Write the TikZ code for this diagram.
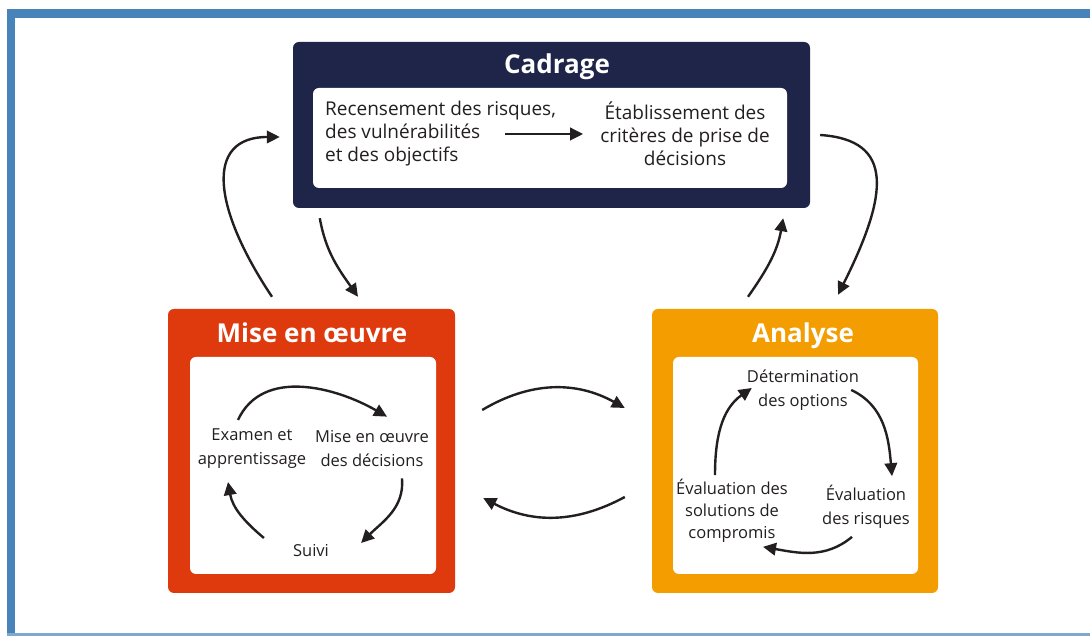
\documentclass[tikz,border=0pt]{standalone}
\usepackage{fontspec}
\setmainfont{Open Sans}
\usetikzlibrary{arrows.meta}
\definecolor{navy}{RGB}{30,37,72}
\definecolor{rouge}{RGB}{222,58,14}
\definecolor{jaune}{RGB}{243,157,0}
\definecolor{cadre}{RGB}{72,131,186}
\definecolor{texte}{RGB}{35,31,32}
\begin{document}
\begin{tikzpicture}[x=1pt,y=1pt,
		>={Triangle[length=13pt,width=12.5pt]},
		box/.style={rounded corners=6pt,inner sep=0pt},
		titre/.style={text=white,inner sep=0pt,font=\fontsize{26}{30}\selectfont\bfseries},
		txt/.style={text=texte,align=center,inner sep=0pt,font=\fontsize{16.5}{24}\selectfont},
		fleche/.style={->,line width=2.4pt,draw=texte}]
		\useasboundingbox (0,0) rectangle (1090,636);
		% frame
		\fill[cadre] (7,618) rectangle (1090,627);
		\fill[cadre] (7,0) rectangle (15,627);
		\fill[cadre!70] (7,0) rectangle (1090,2.5);
		% boxes
		\node[box,fill=navy,minimum width=517pt,minimum height=166pt] (cadrage) at (551.5,511) {};
		\node[box,fill=white,minimum width=474pt,minimum height=100pt] (cadin) at (550,498) {};
		\node[box,fill=rouge,minimum width=287pt,minimum height=284pt] (mise) at (311.5,185) {};
		\node[box,fill=white,minimum width=246pt,minimum height=217pt] (misein) at (313,170.5) {};
		\node[box,fill=jaune,minimum width=286pt,minimum height=284pt] (analyse) at (795,185) {};
		\node[box,fill=white,minimum width=245pt,minimum height=217pt] (anain) at (795.5,170.5) {};
		% titles
		\node[titre] (tcad) at (557,569) {Cadrage};
		\node[titre] (tmise) at (312,303) {Mise en œuvre};
		\node[titre] (tana) at (803,300) {Analyse};
		% cadrage
		\node[txt,align=left,anchor=west,font=\fontsize{19}{23}\selectfont] (recL) at (325,502)
		{Recensement des risques,\\des vulnérabilités\\et des objectifs};
		\node[txt,font=\fontsize{19}{23}\selectfont] (recR) at (685,502)
		{Établissement des\\critères de prise de\\décisions};
		\draw[fleche] ([xshift=-51pt]recL.east) -- ([xshift=-17pt]recR.west);
		% mise en oeuvre
		\node[txt] (exam) at (252,187) {Examen et\\apprentissage};
		\node[txt] (miseo) at (372,187) {Mise en œuvre\\des décisions};
		\node[txt] (suivi) at (311,85) {Suivi};
		\draw[fleche] ([xshift=-14pt,yshift=9pt]exam.north) to[out=65,in=150] ([xshift=15pt,yshift=14pt]miseo.north);
		\draw[fleche] ([xshift=30pt,yshift=-11pt]miseo.south) to[out=-85,in=45] ([xshift=32pt,yshift=8pt]suivi.east);
		\draw[fleche] ([xshift=-29pt,yshift=13pt]suivi.west) to[out=140,in=-80] ([xshift=-24pt,yshift=-13pt]exam.south);
		% analyse
		\node[txt] (det) at (803,246) {Détermination\\des options};
		\node[txt] (evr) at (866,129) {Évaluation\\des risques};
		\node[txt,font=\fontsize{16.5}{22}\selectfont] (evs) at (732,125) {Évaluation des\\solutions de\\compromis};
		\draw[fleche] ([xshift=-8pt]det.east) to[out=-25,in=95] ([xshift=26pt,yshift=9pt]evr.north);
		\draw[fleche] ([xshift=-14pt,yshift=-8pt]evr.south) to[out=-140,in=-10] ([xshift=31pt,yshift=-4pt]evs.south);
		\draw[fleche] ([xshift=-17pt,yshift=4pt]evs.north) to[out=90,in=-145] ([xshift=5pt,yshift=2pt]det.west);
		% between the phases
		\draw[fleche] ([xshift=-39.5pt,yshift=12pt]mise.north) .. controls +(-60,90) and +(-75,0) .. ([xshift=-13pt,yshift=-12pt]cadrage.west);
		\draw[fleche] ([xshift=27pt,yshift=-10pt]cadrage.south west) to[out=-80,in=125] ([xshift=46.5pt,yshift=12pt]mise.north);
		\draw[fleche] ([xshift=27pt,yshift=41pt]mise.east) to[bend left=30] ([xshift=-27pt,yshift=43pt]analyse.west);
		\draw[fleche] ([xshift=-27pt,yshift=-46pt]analyse.west) to[bend left=28] ([xshift=28pt,yshift=-47pt]mise.east);
		\draw[fleche] ([xshift=-47pt,yshift=12pt]analyse.north) to[out=55,in=-100] ([xshift=-27pt,yshift=-10pt]cadrage.south east);
		\draw[fleche] ([xshift=10pt,yshift=-10pt]cadrage.east) .. controls +(75,-5) and +(50,100) .. ([xshift=43pt,yshift=14pt]analyse.north);
\end{tikzpicture}
\end{document}
